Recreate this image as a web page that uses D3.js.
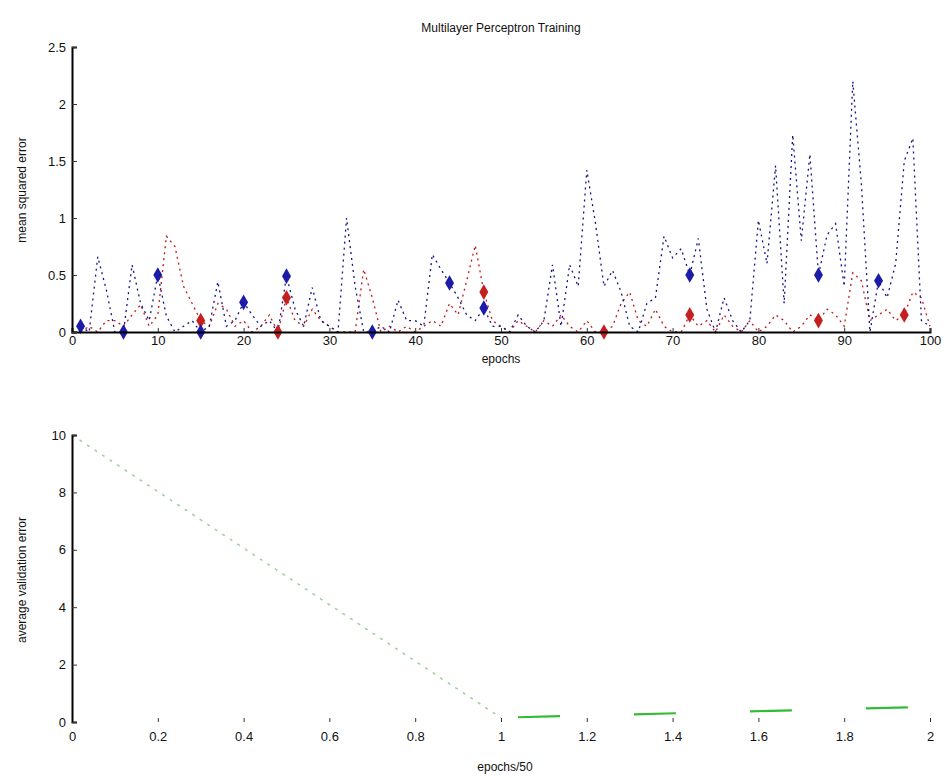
<!DOCTYPE html>
<html><head><meta charset="utf-8">
<script src="https://cdn.jsdelivr.net/npm/d3@7"></script>
<style>body{margin:0;background:#fff}svg{display:block}text{font-family:"Liberation Sans",Arial,sans-serif;fill:#111}</style>
</head><body><svg id="c" width="947" height="778"></svg>
<script>
const title = "Multilayer Perceptron Training";
const epochs = d3.range(1, 101);
const blueMSE = [0.05,0.0,0.66,0.37,0.0,0.0,0.59,0.25,0.1,0.5,0.14,0.0,0.05,0.1,0.0,0.05,0.44,0.05,0.1,0.26,
  0.15,0.05,0.1,0.0,0.49,0.2,0.05,0.39,0.1,0.05,0.0,1.0,0.4,0.0,0.0,0.05,0.0,0.28,0.1,0.1,
  0.05,0.68,0.55,0.43,0.3,0.15,0.1,0.21,0.05,0.05,0.0,0.15,0.05,0.0,0.1,0.59,0.05,0.59,0.4,1.42,
  0.96,0.4,0.54,0.35,0.05,0.0,0.25,0.3,0.84,0.65,0.73,0.5,0.82,0.2,0.0,0.3,0.1,0.0,0.1,0.98,
  0.6,1.46,0.25,1.73,0.8,1.56,0.5,0.85,0.95,0.4,2.2,1.3,0.0,0.45,0.3,0.6,1.5,1.7,0.1,0.05];
const redMSE = [0.0,0.05,0.0,0.1,0.1,0.05,0.15,0.24,0.05,0.15,0.84,0.75,0.4,0.25,0.1,0.05,0.25,0.2,0.05,0.1,
  0.0,0.05,0.15,0.0,0.3,0.1,0.05,0.2,0.1,0.05,0.0,0.0,0.0,0.55,0.3,0.0,0.05,0.0,0.05,0.0,
  0.05,0.1,0.05,0.25,0.15,0.45,0.76,0.35,0.1,0.05,0.0,0.1,0.05,0.0,0.1,0.05,0.15,0.05,0.0,0.1,
  0.0,0.0,0.05,0.25,0.35,0.1,0.05,0.2,0.05,0.0,0.0,0.15,0.05,0.1,0.0,0.15,0.05,0.0,0.1,0.0,
  0.05,0.15,0.1,0.0,0.05,0.15,0.1,0.2,0.15,0.05,0.52,0.45,0.1,0.15,0.2,0.1,0.15,0.35,0.3,0.05];
const blueMarkers = [1,6,10,15,20,25,35,44,48,72,87,94];
const redMarkers = [15,24,25,48,62,72,87,97];
const topXTicks = [0,10,20,30,40,50,60,70,80,90,100];
const topYTicks = [0,0.5,1,1.5,2,2.5];
const valX = [0, 1, 2];
const valY = [10, 0.15, 0.53];
const botXTicks = [0,0.2,0.4,0.6,0.8,1,1.2,1.4,1.6,1.8,2];
const botYTicks = [0,2,4,6,8,10];

const svg = d3.select("#c");
const L = 72, R = 930;

// ---- top panel
const xT = d3.scaleLinear().domain([0,100]).range([L,R]);
const yT = d3.scaleLinear().domain([0,2.5]).range([332,47]);
const gT = svg.append("g");
gT.append("text").attr("x",501).attr("y",32).attr("text-anchor","middle").attr("font-size",12).text(title);

const line = d3.line().x((d,i)=>xT(epochs[i])).y(d=>yT(d));
gT.append("path").datum(redMSE).attr("d",line).attr("fill","none").attr("stroke","#c01818").attr("stroke-width",1.3).attr("stroke-dasharray","2 4");
gT.append("path").datum(blueMSE).attr("d",line).attr("fill","none").attr("stroke","#12128a").attr("stroke-width",1.3).attr("stroke-dasharray","2 4");

const dia = d3.symbol().type(d3.symbolDiamond).size(70);
gT.selectAll(".rm").data(redMarkers).join("path").attr("d",dia)
  .attr("transform",e=>`translate(${xT(e)},${yT(redMSE[e-1])})`).attr("fill","#c42020");
gT.selectAll(".bm").data(blueMarkers).join("path").attr("d",dia)
  .attr("transform",e=>`translate(${xT(e)},${yT(blueMSE[e-1])})`).attr("fill","#1c1ca8");

const axT = gT.append("g").attr("transform","translate(0,332)")
  .call(d3.axisBottom(xT).tickValues(topXTicks).tickSize(-4).tickPadding(4).tickFormat(d3.format("d")));
const ayT = gT.append("g").attr("transform",`translate(${L},0)`)
  .call(d3.axisLeft(yT).tickValues(topYTicks).tickSize(-5).tickPadding(6).tickFormat(d=>String(d)));
[axT, ayT].forEach(a=>{a.selectAll("text").attr("font-size",13).attr("fill","#111");
  a.select(".domain").attr("stroke","#000").attr("stroke-width",2);
  a.selectAll(".tick line").attr("stroke","#333");});
gT.append("text").attr("x",501).attr("y",363).attr("text-anchor","middle").attr("font-size",12).text("epochs");
gT.append("text").attr("transform","translate(26,190) rotate(-90)").attr("text-anchor","middle").attr("font-size",12).text("mean squared error");

// ---- bottom panel
const xB = d3.scaleLinear().domain([0,2]).range([L,R]);
const yB = d3.scaleLinear().domain([0,10]).range([722,435]);
const gB = svg.append("g");
const vline = d3.line().x((d,i)=>xB(valX[i])).y(d=>yB(d));
gB.append("path").datum(valY.slice(0,2)).attr("d",vline).attr("fill","none").attr("stroke","#9ccf9c").attr("stroke-width",1.5).attr("stroke-dasharray","3 6");
const seg2 = d3.line().x((d,i)=>xB(valX[i+1])).y(d=>yB(d));
gB.append("path").datum(valY.slice(1)).attr("d",seg2).attr("fill","none").attr("stroke","#33bb33").attr("stroke-width",2.2).attr("stroke-dasharray","42 74").attr("stroke-dashoffset",99);

const axB = gB.append("g").attr("transform","translate(0,722)")
  .call(d3.axisBottom(xB).tickValues(botXTicks).tickSize(-4).tickPadding(10).tickFormat(d=>String(d)));
axB.select(".domain").remove();
const ayB = gB.append("g").attr("transform",`translate(${L},0)`)
  .call(d3.axisLeft(yB).tickValues(botYTicks).tickSize(-5).tickPadding(6).tickFormat(d=>String(d)));
ayB.select(".domain").attr("stroke","#000").attr("stroke-width",2);
[axB, ayB].forEach(a=>{a.selectAll("text").attr("font-size",13).attr("fill","#111");
  a.selectAll(".tick line").attr("stroke","#333");});
gB.append("text").attr("x",505).attr("y",771).attr("text-anchor","middle").attr("font-size",12).text("epochs/50");
gB.append("text").attr("transform","translate(26,580) rotate(-90)").attr("text-anchor","middle").attr("font-size",12).text("average validation error");
</script></body></html>
